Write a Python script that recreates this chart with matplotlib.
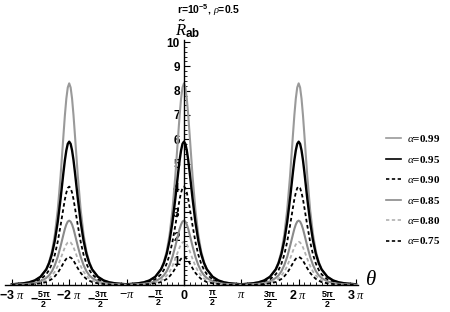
import numpy as np
import matplotlib
matplotlib.use('Agg')
import matplotlib.pyplot as plt

plt.rcParams['font.family'] = ['Liberation Sans', 'DejaVu Sans']
plt.rcParams['mathtext.fontset'] = 'custom'
plt.rcParams['mathtext.rm'] = 'Liberation Sans'
plt.rcParams['mathtext.bf'] = 'Liberation Sans:bold'
plt.rcParams['mathtext.it'] = 'Liberation Serif:italic'

# peak profile: offset from each peak (units of pi)
offsets = [0, 0.025, 0.05, 0.075, 0.1, 0.15, 0.2, 0.25, 0.3, 0.35, 0.4, 0.5, 0.6, 0.7, 0.8, 1.0]
peak_centers = [-2, 0, 2]  # units of pi

alphas = ['0.99', '0.95', '0.90', '0.85', '0.80', '0.75']
r_099 = [8.3, 8.13, 7.67, 6.99, 6.17, 4.49, 3.09, 2.08, 1.39, 0.95, 0.65, 0.33, 0.18, 0.11, 0.07, 0.03]
r_095 = [5.9, 5.81, 5.54, 5.14, 4.64, 3.56, 2.59, 1.83, 1.28, 0.90, 0.64, 0.34, 0.19, 0.11, 0.07, 0.03]
r_090 = [4.05, 3.99, 3.80, 3.53, 3.18, 2.45, 1.78, 1.25, 0.88, 0.62, 0.44, 0.23, 0.13, 0.08, 0.05, 0.02]
r_085 = [2.65, 2.61, 2.49, 2.31, 2.08, 1.60, 1.16, 0.82, 0.57, 0.40, 0.29, 0.15, 0.08, 0.05, 0.03, 0.01]
r_080 = [1.78, 1.75, 1.67, 1.55, 1.40, 1.08, 0.78, 0.55, 0.39, 0.27, 0.19, 0.10, 0.06, 0.03, 0.02, 0.01]
r_075 = [1.15, 1.13, 1.08, 1.00, 0.90, 0.69, 0.50, 0.36, 0.25, 0.18, 0.12, 0.07, 0.04, 0.02, 0.01, 0.01]
profiles = [r_099, r_095, r_090, r_085, r_080, r_075]

xtick_vals = [-3, -2.5, -2, -1.5, -1, -0.5, 0, 0.5, 1, 1.5, 2, 2.5, 3]
xtick_labels = [r'$\mathbf{-3}\ \pi$', r'$\mathbf{-\frac{5\pi}{2}}$', r'$\mathbf{-2}\ \pi$',
                r'$\mathbf{-\frac{3\pi}{2}}$', r'$-\pi$', r'$\mathbf{-\frac{\pi}{2}}$', r'$\mathbf{0}$',
                r'$\mathbf{\frac{\pi}{2}}$', r'$\pi$', r'$\mathbf{\frac{3\pi}{2}}$', r'$\mathbf{2}\ \pi$',
                r'$\mathbf{\frac{5\pi}{2}}$', r'$\mathbf{3}\ \pi$']

styles = [
    dict(color='#9a9a9a', lw=1.5, ls='-'),
    dict(color='black', lw=1.7, ls='-'),
    dict(color='black', lw=1.3, ls=(0, (2, 1.5))),
    dict(color='#8a8a8a', lw=1.5, ls='-'),
    dict(color='#b0b0b0', lw=1.3, ls=(0, (2, 1.5))),
    dict(color='black', lw=1.3, ls=(0, (2, 1.5))),
]


def full_curve(prof):
    d = np.array(offsets)
    v = np.array(prof)
    half_x = np.concatenate([-d[::-1], d[1:]])
    half_y = np.concatenate([v[::-1], v[1:]])
    xs = np.concatenate([(c + half_x) * np.pi for c in peak_centers])
    ys = np.concatenate([half_y for c in peak_centers])
    return xs, ys


fig = plt.figure(figsize=(4.5, 3.12), dpi=100)
ax = fig.add_axes([0.011, 0.0865, 0.784, 0.7865])

for a, prof, st in zip(alphas, profiles, styles):
    xs, ys = full_curve(prof)
    ax.plot(xs, ys, label=r'$\alpha$=' + a, **st)

ax.set_xlim(-3.12 * np.pi, 3.03 * np.pi)
ax.set_ylim(0, 10.1)
ax.spines['left'].set_position(('data', 0))
ax.spines['bottom'].set_position(('data', 0))
ax.spines['top'].set_visible(False)
ax.spines['right'].set_visible(False)
for s in ['left', 'bottom']:
    ax.spines[s].set_linewidth(1.0)

ax.set_xticks([v * np.pi for v in xtick_vals])
ax.set_xticklabels(xtick_labels)
ax.set_xticks(np.arange(-3, 3.01, 0.1) * np.pi, minor=True)
ax.set_yticks(range(1, 11))
ax.set_yticks(np.arange(0, 10.01, 0.2), minor=True)
ax.tick_params(axis='both', which='major', direction='in', length=4, width=0.8, pad=3)
ax.tick_params(axis='y', which='major', labelsize=8.5)
ax.tick_params(axis='x', which='major', labelsize=9)
ax.tick_params(axis='both', which='minor', direction='in', length=2, width=0.6)
for lab in ax.get_yticklabels() + ax.get_xticklabels():
    lab.set_fontweight('bold')

fig.text(0.812, 0.10, r'$\theta$', fontsize=15, family='Liberation Serif',
         ha='left', va='center')
fig.text(0.418, 0.905, r'$\tilde{\mathit{R}}_{\mathbf{ab}}$', fontsize=12, ha='center', va='center')
fig.text(0.463, 0.967, r'r=10$^{\mathbf{-5}}$, $\rho$=0.5', fontsize=7.5, weight='bold',
         ha='center', va='center')

leg = fig.legend(loc='upper left', bbox_to_anchor=(0.835, 0.605), frameon=False,
                 handlelength=1.4, handletextpad=0.5, labelspacing=0.85,
                 prop={'family': 'Liberation Serif', 'size': 8, 'weight': 'bold'})
for h in leg.get_lines():
    h.set_linewidth(1.2)

plt.savefig('out.png', dpi=100)
